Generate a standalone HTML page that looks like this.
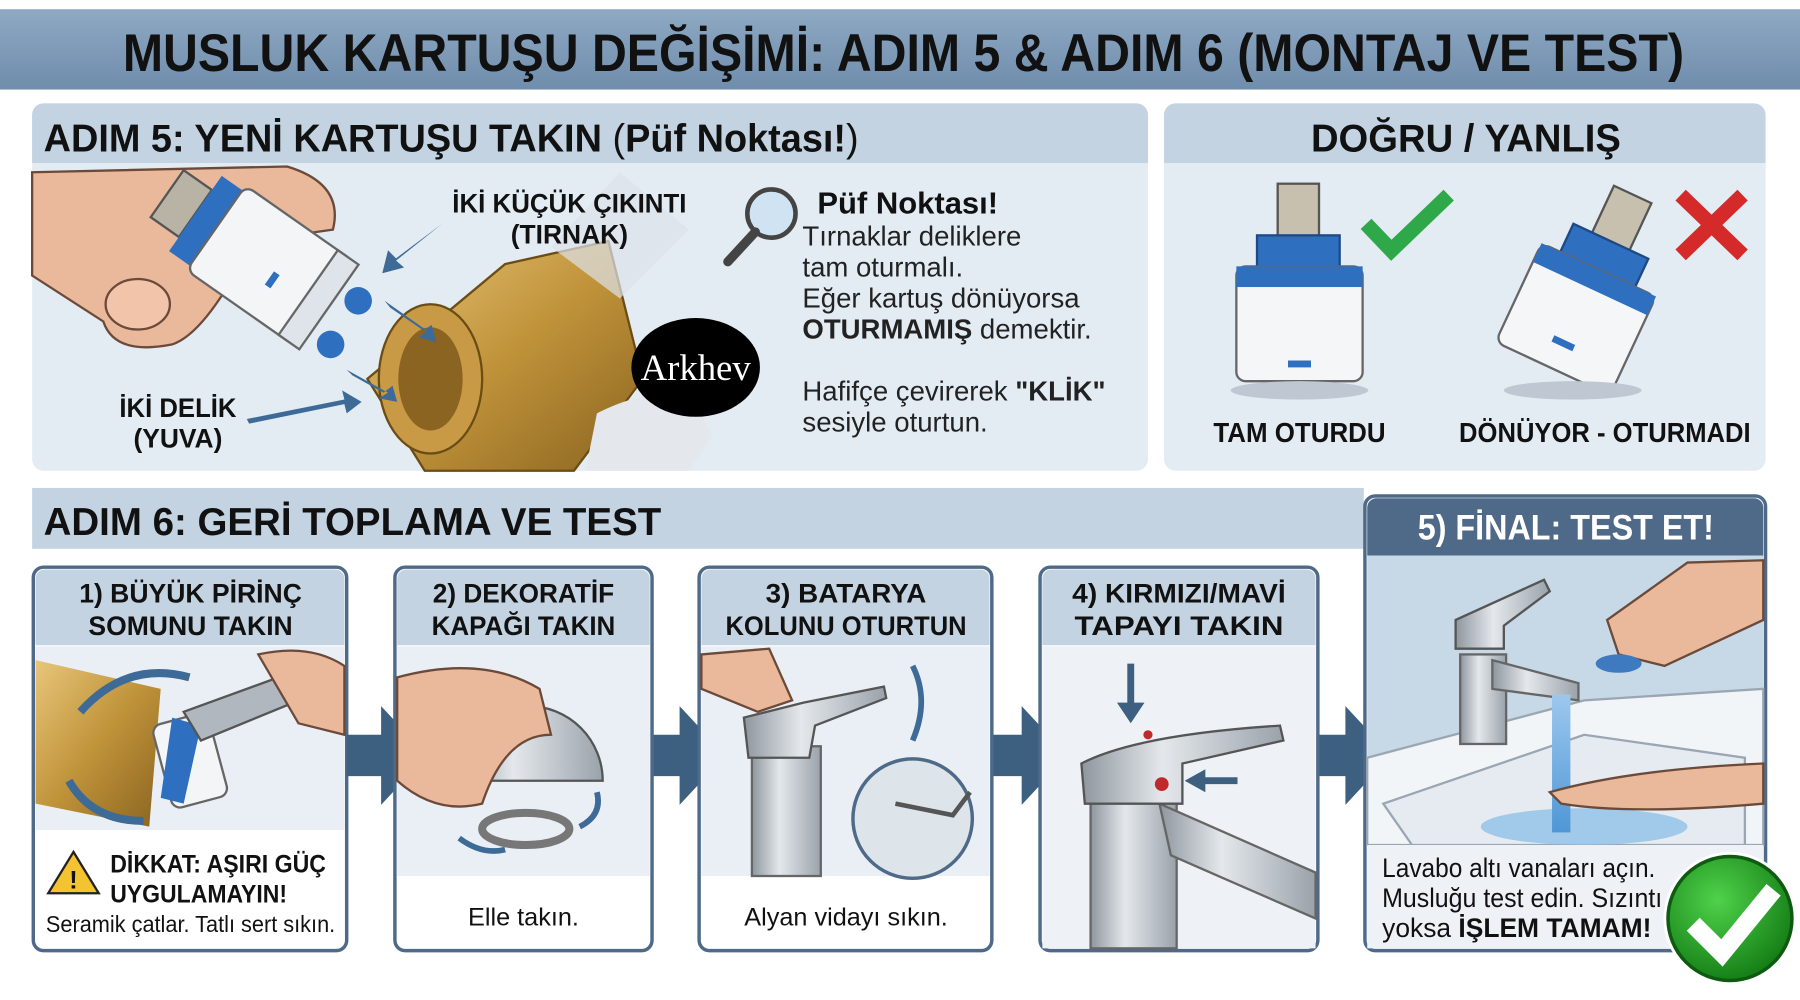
<!DOCTYPE html>
<html><head><meta charset="utf-8"><style>
html,body{margin:0;padding:0;background:#fff;}
svg{display:block;}
text{font-family:"Liberation Sans",sans-serif;}
</style></head><body>
<svg width="1800" height="1000" viewBox="0 0 1568 871" preserveAspectRatio="none" xmlns="http://www.w3.org/2000/svg">
<defs>
<linearGradient id="tb" x1="0" y1="0" x2="0" y2="1"><stop offset="0" stop-color="#8fa9c3"/><stop offset="1" stop-color="#6f8dac"/></linearGradient>
<linearGradient id="brass" x1="0" y1="0" x2="1" y2="1"><stop offset="0" stop-color="#e8c67a"/><stop offset="0.5" stop-color="#c0933a"/><stop offset="1" stop-color="#8a6420"/></linearGradient>
<linearGradient id="chrome" x1="0" y1="0" x2="1" y2="0"><stop offset="0" stop-color="#8e969e"/><stop offset="0.4" stop-color="#e4e8ec"/><stop offset="1" stop-color="#9aa2aa"/></linearGradient>
<radialGradient id="gc" cx="0.4" cy="0.35" r="0.7"><stop offset="0" stop-color="#4fd24a"/><stop offset="1" stop-color="#127a14"/></radialGradient>
<linearGradient id="water" x1="0" y1="0" x2="0" y2="1"><stop offset="0" stop-color="#9cc8ee"/><stop offset="1" stop-color="#4f97d6"/></linearGradient>
</defs>
<rect width="1568" height="871" fill="#fff"/>
<rect x="0" y="8" width="1568" height="70" fill="url(#tb)"/>
<text x="787" y="62" text-anchor="middle" font-size="46" font-weight="bold" fill="#111" textLength="1360" lengthAdjust="spacingAndGlyphs">MUSLUK KARTUŞU DEĞİŞİMİ: ADIM 5 &amp; ADIM 6 (MONTAJ VE TEST)</text>

<rect x="28" y="90" width="972" height="320" rx="10" fill="#e3ebf3"/>
<path d="M28 100 a10 10 0 0 1 10 -10 h952 a10 10 0 0 1 10 10 v42 h-972z" fill="#c3d3e2"/>
<text x="38" y="132" font-size="34" font-weight="bold" fill="#111" textLength="710" lengthAdjust="spacingAndGlyphs">ADIM 5: YENİ KARTUŞU TAKIN <tspan font-weight="normal">(</tspan>Püf Noktası!<tspan font-weight="normal">)</tspan></text>
<path d="M28 150 L250 145 Q300 160 290 200 L220 210 Q180 290 150 300 Q100 310 90 280 L28 240Z" fill="#eab89a" stroke="#6b4a3a" stroke-width="2"/>
<ellipse cx="120" cy="265" rx="28" ry="22" fill="#f2c4aa" stroke="#6b4a3a" stroke-width="2"/>
<g transform="rotate(35 230 240)">
<rect x="120" y="205" width="30" height="50" fill="#b9b3a6" stroke="#555" stroke-width="2"/>
<rect x="150" y="190" width="22" height="80" fill="#2f6fc0"/>
<rect x="172" y="185" width="115" height="90" rx="8" fill="#f3f5f7" stroke="#666" stroke-width="2"/>
<rect x="270" y="185" width="22" height="90" fill="#dfe4ea" stroke="#666" stroke-width="2"/>
<rect x="235" y="232" width="6" height="14" fill="#2f6fc0"/>
</g>
<circle cx="312" cy="262" r="12" fill="#2f6fc0"/><circle cx="288" cy="300" r="12" fill="#2f6fc0"/>
<path d="M440 230 L530 210 L560 330 L500 410 L370 410 L320 330Z" fill="url(#brass)" stroke="#6b4c15" stroke-width="2"/>
<ellipse cx="375" cy="330" rx="45" ry="65" fill="#c99a45" stroke="#6b4c15" stroke-width="2"/>
<ellipse cx="375" cy="330" rx="28" ry="45" fill="#8a6420"/>
<path d="M480 215 L540 150 L600 200 L540 260Z" fill="#dde3ea" opacity="0.7"/>
<path d="M520 360 Q600 320 620 380 L600 410 L510 410Z" fill="#e4e8ed"/>
<g fill="#3d6a96">
<path d="M385 195 L345 225 L338 218 L333 238 L352 233 L345 227Z"/>
<path d="M335 262 L372 288 L365 294 L380 298 L376 283 L369 288 L340 268Z"/>
<path d="M302 322 L338 342 L330 347 L346 350 L342 336 L334 342 L307 327Z"/>
<path d="M215 365 L300 348 L298 340 L315 350 L302 360 L300 352 L217 369Z"/>
</g>
<text x="496" y="185" text-anchor="middle" font-size="23" font-weight="bold" fill="#111" textLength="204" lengthAdjust="spacingAndGlyphs">İKİ KÜÇÜK ÇIKINTI</text>
<text x="496" y="212" text-anchor="middle" font-size="23" font-weight="bold" fill="#111">(TIRNAK)</text>
<text x="155" y="363" text-anchor="middle" font-size="23" font-weight="bold" fill="#111" textLength="102" lengthAdjust="spacingAndGlyphs">İKİ DELİK</text>
<text x="155" y="390" text-anchor="middle" font-size="23" font-weight="bold" fill="#111">(YUVA)</text>
<ellipse cx="606" cy="320" rx="56" ry="43" fill="#000"/>
<text x="606" y="331" text-anchor="middle" style="font-family:'Liberation Serif',serif" font-size="32" fill="#fff">Arkhev</text>
<circle cx="672" cy="186" r="21" fill="#cfe3f3" stroke="#444" stroke-width="4"/>
<path d="M658 202 L634 228" stroke="#444" stroke-width="8" stroke-linecap="round"/>
<text x="712" y="186" font-size="27" font-weight="bold" fill="#111">Püf Noktası!</text>
<g font-size="24" fill="#222">
<text x="699" y="214">Tırnaklar deliklere</text>
<text x="699" y="241">tam oturmalı.</text>
<text x="699" y="268">Eğer kartuş dönüyorsa</text>
<text x="699" y="295"><tspan font-weight="bold">OTURMAMIŞ</tspan> demektir.</text>
<text x="699" y="349">Hafifçe çevirerek <tspan font-weight="bold">"KLİK"</tspan></text>
<text x="699" y="376">sesiyle oturtun.</text>
</g>

<rect x="1014" y="90" width="524" height="320" rx="10" fill="#e3ebf3"/>
<path d="M1014 100 a10 10 0 0 1 10 -10 h504 a10 10 0 0 1 10 10 v42 h-524z" fill="#c3d3e2"/>
<text x="1277" y="132" text-anchor="middle" font-size="34" font-weight="bold" fill="#111" textLength="270" lengthAdjust="spacingAndGlyphs">DOĞRU / YANLIŞ</text>
<rect x="1113" y="160" width="36" height="50" fill="#c8c0ae" stroke="#555" stroke-width="2"/>
<rect x="1095" y="205" width="72" height="30" fill="#2f6fc0" stroke="#1d4a85" stroke-width="2"/>
<rect x="1077" y="232" width="110" height="100" rx="8" fill="#f4f6f8" stroke="#666" stroke-width="2"/>
<rect x="1077" y="232" width="110" height="18" fill="#2f6fc0"/>
<rect x="1122" y="314" width="20" height="6" fill="#2f6fc0"/>
<ellipse cx="1132" cy="340" rx="60" ry="8" fill="#bfc8d2"/>
<path d="M1190 195 L1212 218 L1262 170" stroke="#2fa84a" stroke-width="13" fill="none"/>
<g transform="rotate(25 1380 260)">
<rect x="1362" y="160" width="36" height="50" fill="#c8c0ae" stroke="#555" stroke-width="2"/>
<rect x="1344" y="205" width="72" height="30" fill="#2f6fc0" stroke="#1d4a85" stroke-width="2"/>
<rect x="1326" y="232" width="110" height="95" rx="8" fill="#f4f6f8" stroke="#666" stroke-width="2"/>
<rect x="1326" y="232" width="110" height="18" fill="#2f6fc0"/>
<rect x="1370" y="300" width="20" height="6" fill="#2f6fc0"/>
</g>
<ellipse cx="1370" cy="340" rx="60" ry="8" fill="#bfc8d2"/>
<path d="M1464 170 L1518 222 M1518 170 L1464 222" stroke="#d42a2a" stroke-width="13"/>
<text x="1132" y="385" text-anchor="middle" font-size="24" font-weight="bold" fill="#111" textLength="150" lengthAdjust="spacingAndGlyphs">TAM OTURDU</text>
<text x="1398" y="385" text-anchor="middle" font-size="24" font-weight="bold" fill="#111" textLength="254" lengthAdjust="spacingAndGlyphs">DÖNÜYOR - OTURMADI</text>

<rect x="28" y="425" width="1160" height="53" fill="#c3d3e2"/>
<text x="38" y="466" font-size="34" font-weight="bold" fill="#111" textLength="538" lengthAdjust="spacingAndGlyphs">ADIM 6: GERİ TOPLAMA VE TEST</text>

<rect x="29" y="494" width="273" height="334" rx="9" fill="#fff" stroke="#4e6a88" stroke-width="3"/>
<path d="M31 504 a8 8 0 0 1 8 -8 h253 a8 8 0 0 1 8 8 v58 h-269z" fill="#c3d3e2"/>
<text x="166" y="525" text-anchor="middle" font-size="23" font-weight="bold" fill="#111" textLength="194" lengthAdjust="spacingAndGlyphs">1) BÜYÜK PİRİNÇ</text>
<text x="166" y="553" text-anchor="middle" font-size="23" font-weight="bold" fill="#111" textLength="178" lengthAdjust="spacingAndGlyphs">SOMUNU TAKIN</text>
<rect x="31" y="563" width="269" height="160" fill="#e9eff5"/>
<path d="M31 575 L140 600 L130 720 L31 700Z" fill="url(#brass)"/>
<rect x="140" y="625" width="50" height="75" rx="8" fill="#f3f5f7" stroke="#666" stroke-width="2" transform="rotate(-15 165 660)"/>
<path d="M150 625 L175 632 L160 700 L140 695Z" fill="#2f6fc0"/>
<path d="M160 620 L270 580 L285 600 L175 645Z" fill="#b0b7bf" stroke="#555" stroke-width="2"/>
<path d="M225 570 Q270 560 300 580 L300 640 L260 630Z" fill="#eab89a" stroke="#6b4a3a" stroke-width="2"/>
<path d="M70 620 Q110 575 165 590" stroke="#3d6a96" stroke-width="7" fill="none"/>
<path d="M60 680 Q80 715 125 715" stroke="#3d6a96" stroke-width="7" fill="none"/>
<path d="M40 742 L62 778 L18 778Z" transform="translate(24 0)" fill="#f4c430" stroke="#222" stroke-width="2"/>
<text x="64" y="774" text-anchor="middle" font-size="22" font-weight="bold" fill="#111">!</text>
<text x="96" y="760" font-size="22" font-weight="bold" fill="#111" textLength="188" lengthAdjust="spacingAndGlyphs">DİKKAT: AŞIRI GÜÇ</text>
<text x="96" y="786" font-size="22" font-weight="bold" fill="#111" textLength="154" lengthAdjust="spacingAndGlyphs">UYGULAMAYIN!</text>
<text x="40" y="812" font-size="20" fill="#111" textLength="252" lengthAdjust="spacingAndGlyphs">Seramik çatlar. Tatlı sert sıkın.</text>

<g fill="#3d5f80">
<path d="M302 640 h30 v-25 l40 43 l-40 43 v-25 h-30z"/>
<path d="M568 640 h24 v-25 l40 43 l-40 43 v-25 h-24z"/>
<path d="M864 640 h26 v-25 l40 43 l-40 43 v-25 h-26z"/>
<path d="M1148 640 h24 v-25 l40 43 l-40 43 v-25 h-24z"/>
</g>

<rect x="344" y="494" width="224" height="334" rx="9" fill="#fff" stroke="#4e6a88" stroke-width="3"/>
<path d="M346 504 a8 8 0 0 1 8 -8 h204 a8 8 0 0 1 8 8 v58 h-220z" fill="#c3d3e2"/>
<text x="456" y="525" text-anchor="middle" font-size="23" font-weight="bold" fill="#111" textLength="158" lengthAdjust="spacingAndGlyphs">2) DEKORATİF</text>
<text x="456" y="553" text-anchor="middle" font-size="23" font-weight="bold" fill="#111" textLength="160" lengthAdjust="spacingAndGlyphs">KAPAĞI TAKIN</text>
<rect x="346" y="563" width="220" height="200" fill="#e9eff5"/>
<path d="M395 680 A65 65 0 0 1 525 680 Z" fill="url(#chrome)" stroke="#555" stroke-width="2"/>
<path d="M346 590 Q420 570 470 600 L480 640 Q440 640 420 700 Q380 710 346 680Z" fill="#eab89a" stroke="#6b4a3a" stroke-width="2"/>
<ellipse cx="458" cy="722" rx="38" ry="14" fill="none" stroke="#777" stroke-width="7"/>
<path d="M400 730 Q420 745 440 740" stroke="#3d6a96" stroke-width="5" fill="none"/>
<path d="M505 720 Q525 710 520 690" stroke="#3d6a96" stroke-width="5" fill="none"/>
<text x="456" y="806" text-anchor="middle" font-size="22" fill="#111">Elle takın.</text>

<rect x="609" y="494" width="255" height="334" rx="9" fill="#fff" stroke="#4e6a88" stroke-width="3"/>
<path d="M611 504 a8 8 0 0 1 8 -8 h235 a8 8 0 0 1 8 8 v58 h-251z" fill="#c3d3e2"/>
<text x="737" y="525" text-anchor="middle" font-size="23" font-weight="bold" fill="#111" textLength="140" lengthAdjust="spacingAndGlyphs">3) BATARYA</text>
<text x="737" y="553" text-anchor="middle" font-size="23" font-weight="bold" fill="#111" textLength="210" lengthAdjust="spacingAndGlyphs">KOLUNU OTURTUN</text>
<rect x="611" y="563" width="251" height="200" fill="#e9eff5"/>
<rect x="655" y="650" width="60" height="113" fill="url(#chrome)" stroke="#666" stroke-width="2"/>
<path d="M648 625 L700 612 L770 598 L772 608 L710 632 L705 660 L652 660Z" fill="url(#chrome)" stroke="#555" stroke-width="2"/>
<path d="M611 570 L670 565 L690 610 L660 620 L611 600Z" fill="#eab89a" stroke="#6b4a3a" stroke-width="2"/>
<circle cx="795" cy="713" r="52" fill="#dde4ea" stroke="#4e6a88" stroke-width="3"/>
<path d="M780 700 L830 710 L845 690" stroke="#555" stroke-width="4" fill="none"/>
<path d="M795 580 Q810 610 795 645" stroke="#3d6a96" stroke-width="5" fill="none"/>
<text x="737" y="806" text-anchor="middle" font-size="22" fill="#111">Alyan vidayı sıkın.</text>

<rect x="906" y="494" width="242" height="334" rx="9" fill="#fff" stroke="#4e6a88" stroke-width="3"/>
<path d="M908 504 a8 8 0 0 1 8 -8 h222 a8 8 0 0 1 8 8 v58 h-238z" fill="#c3d3e2"/>
<text x="1027" y="525" text-anchor="middle" font-size="23" font-weight="bold" fill="#111" textLength="186" lengthAdjust="spacingAndGlyphs">4) KIRMIZI/MAVİ</text>
<text x="1027" y="553" text-anchor="middle" font-size="23" font-weight="bold" fill="#111" textLength="182" lengthAdjust="spacingAndGlyphs">TAPAYI TAKIN</text>
<rect x="908" y="563" width="238" height="263" fill="#eef2f6"/>
<rect x="950" y="690" width="75" height="136" fill="url(#chrome)" stroke="#666" stroke-width="2"/>
<path d="M1010 700 L1146 760 L1146 800 L1020 745Z" fill="url(#chrome)" stroke="#666" stroke-width="2"/>
<path d="M942 665 Q990 640 1115 632 L1118 645 L1030 665 L1030 700 L945 700Z" fill="url(#chrome)" stroke="#555" stroke-width="2"/>
<circle cx="1012" cy="683" r="6" fill="#c02a2a"/><circle cx="1000" cy="640" r="4" fill="#c02a2a"/>
<path d="M985 578 v40" stroke="#3d5f80" stroke-width="6"/><path d="M973 612 l12 18 l12 -18z" fill="#3d5f80"/>
<path d="M1078 680 h-30" stroke="#3d5f80" stroke-width="6"/><path d="M1050 670 l-18 10 l18 10z" fill="#3d5f80"/>

<rect x="1189" y="432" width="349" height="396" rx="9" fill="#fff" stroke="#4e6a88" stroke-width="3"/>
<path d="M1191 442 a8 8 0 0 1 8 -8 h329 a8 8 0 0 1 8 8 v42 h-345z" fill="#4e6a88"/>
<text x="1364" y="470" text-anchor="middle" font-size="31" font-weight="bold" fill="#fff" textLength="258" lengthAdjust="spacingAndGlyphs">5) FİNAL: TEST ET!</text>
<rect x="1191" y="484" width="345" height="252" fill="#c7d8e6"/>
<path d="M1191 660 L1380 610 L1536 600 L1536 736 L1191 736Z" fill="#f2f5f8" stroke="#9aa6b2" stroke-width="2"/>
<path d="M1205 700 L1380 640 L1520 660 L1520 736 L1230 736Z" fill="#e5ebf0" stroke="#9aa6b2" stroke-width="2"/>
<ellipse cx="1380" cy="720" rx="90" ry="16" fill="#8ec0e8" opacity="0.8"/>
<rect x="1272" y="570" width="40" height="78" fill="url(#chrome)" stroke="#666" stroke-width="2"/>
<path d="M1300 575 L1375 595 L1375 610 L1300 600Z" fill="url(#chrome)" stroke="#666" stroke-width="2"/>
<path d="M1268 540 L1345 505 L1350 515 L1310 545 L1310 565 L1268 565Z" fill="url(#chrome)" stroke="#555" stroke-width="2"/>
<rect x="1352" y="605" width="16" height="120" fill="url(#water)"/>
<path d="M1400 540 L1470 490 L1536 488 L1536 540 L1450 580 L1410 570Z" fill="#eab89a" stroke="#6b4a3a" stroke-width="2"/>
<ellipse cx="1410" cy="578" rx="20" ry="8" fill="#3d7ac0"/>
<path d="M1350 690 Q1420 670 1536 665 L1536 700 Q1420 710 1360 700Z" fill="#eab89a" stroke="#6b4a3a" stroke-width="2"/>
<rect x="1191" y="736" width="345" height="90" fill="#eef2f6"/>
<g font-size="23" fill="#111">
<text x="1204" y="764" textLength="238" lengthAdjust="spacingAndGlyphs">Lavabo altı vanaları açın.</text>
<text x="1204" y="790" textLength="244" lengthAdjust="spacingAndGlyphs">Musluğu test edin. Sızıntı</text>
<text x="1204" y="816">yoksa <tspan font-weight="bold">İŞLEM TAMAM!</tspan></text>
</g>
<circle cx="1507" cy="800" r="58" fill="#fff"/>
<circle cx="1507" cy="800" r="54" fill="url(#gc)" stroke="#0d5a10" stroke-width="3"/>
<path d="M1475 805 L1500 830 L1545 775" stroke="#fff" stroke-width="16" fill="none"/>
</svg>
</body></html>
